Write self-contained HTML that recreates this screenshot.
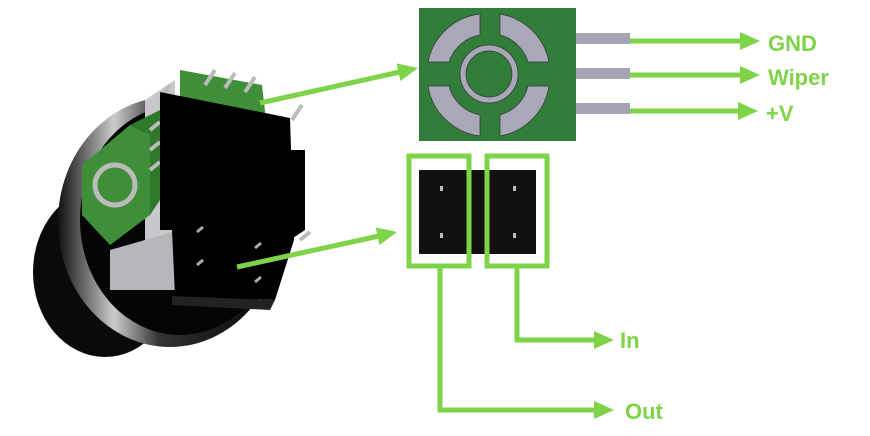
<!DOCTYPE html>
<html><head><style>
body{margin:0;background:#fff;width:870px;height:436px;overflow:hidden}
svg{display:block}
text{font-family:"Liberation Sans",sans-serif;font-weight:bold;fill:#7ed348}
</style></head><body>
<svg width="870" height="436" viewBox="0 0 870 436">
<defs>
<linearGradient id="g1" x1="0" x2="1"><stop offset="0" stop-color="#111"/><stop offset=".25" stop-color="#ccc"/><stop offset=".45" stop-color="#333"/><stop offset="1" stop-color="#000"/></linearGradient>
</defs>
<!-- knob -->
<ellipse cx="105" cy="272" rx="72" ry="85" fill="#0a0a0a"/>
<ellipse cx="170" cy="222" rx="112" ry="125" fill="url(#g1)"/>
<ellipse cx="180" cy="220" rx="100" ry="115" fill="#050505"/>
<!-- silver brackets -->
<polygon points="145,100 175,80 175,270 145,290" fill="#c8c8cc"/>
<polygon points="110,250 180,230 180,290 110,290" fill="#b5b5ba"/>
<!-- green side board -->
<polygon points="82,165 130,125 150,135 150,215 110,245 82,215" fill="#3f8f3a"/>
<polygon points="130,125 160,110 160,200 150,215 150,135" fill="#2e7a2a"/>
<circle cx="115" cy="185" r="20" fill="none" stroke="#bbb" stroke-width="5"/>
<!-- top board -->
<polygon points="180,70 262,85 266,120 180,110" fill="#3f8f3a"/>
<g stroke="#bbb" stroke-width="4"><line x1="205" y1="85" x2="215" y2="70"/><line x1="225" y1="88" x2="235" y2="73"/><line x1="245" y1="92" x2="255" y2="77"/><line x1="160" y1="100" x2="170" y2="85"/><line x1="292" y1="120" x2="302" y2="105"/><line x1="150" y1="130" x2="160" y2="122"/><line x1="150" y1="150" x2="160" y2="142"/><line x1="150" y1="170" x2="160" y2="162"/><line x1="300" y1="240" x2="310" y2="232"/></g>
<!-- black housing -->
<polygon points="160,92 290,118 294,240 275,300 175,296 172,230 160,230" fill="#000"/>
<polygon points="290,150 305,150 305,230 290,240" fill="#000"/>
<polygon points="172,296 275,300 270,310 172,305" fill="#222"/>
<g stroke="#aaa" stroke-width="3"><line x1="197" y1="232" x2="203" y2="227"/><line x1="197" y1="265" x2="203" y2="260"/><line x1="255" y1="248" x2="261" y2="243"/><line x1="255" y1="282" x2="261" y2="277"/></g>
<!-- left arrows -->
<g stroke="#7ed348" stroke-width="5" fill="none">
<line x1="260" y1="103" x2="400" y2="72"/>
<line x1="237" y1="267" x2="379" y2="236"/>
</g>
<g fill="#7ed348">
<polygon points="418,68 400.4,81 396.6,63.4"/>
<polygon points="397,232 379.4,245 375.6,227.4"/>
</g>
<!-- pcb -->
<rect x="419" y="8" width="157" height="133" fill="#327d3a"/>
<g fill="#a8a8b8" stroke="#333" stroke-width=".7">
<path d="M480,14 A60,60 0 0,0 428,62 L449,62 A40,40 0 0,1 480,35 Z"/>
<path d="M500,14 A60,60 0 0,1 549,62 L528,62 A40,40 0 0,0 500,35 Z"/>
<path d="M480,136 A60,60 0 0,1 428,86 L449,86 A40,40 0 0,0 480,115 Z"/>
<path d="M500,136 A60,60 0 0,0 549,86 L528,86 A40,40 0 0,1 500,115 Z"/>
</g>
<circle cx="489" cy="74" r="29" fill="#a8a8b8" stroke="#333" stroke-width=".7"/>
<circle cx="489" cy="74" r="23" fill="#327d3a" stroke="#333" stroke-width=".7"/>
<g fill="#a4a4b4"><rect x="576" y="33" width="54" height="11"/><rect x="576" y="68" width="54" height="11"/><rect x="576" y="103" width="54" height="11"/></g>
<g stroke="#7ed348" stroke-width="5" fill="none">
<line x1="630" y1="41" x2="742" y2="41"/>
<line x1="630" y1="75" x2="742" y2="75"/>
<line x1="630" y1="111" x2="740" y2="111"/>
<rect x="409" y="156" width="60" height="110"/>
<rect x="487" y="156" width="60" height="110"/>
<polyline points="440,266 440,410 596,410"/>
<polyline points="517,266 517,340 596,340"/>
</g>
<g fill="#7ed348">
<polygon points="760,41 740,32 740,50"/>
<polygon points="760,75 740,66 740,84"/>
<polygon points="758,111 738,102 738,120"/>
<polygon points="614,340 594,331 594,349"/>
<polygon points="614,410 594,401 594,419"/>
</g>
<text x="768" y="51" font-size="22">GND</text>
<text x="768" y="85" font-size="22">Wiper</text>
<text x="766" y="121" font-size="22">+V</text>
<!-- black jacks -->
<rect x="419" y="170" width="117" height="84" fill="#111"/>
<g fill="#bbb"><rect x="440" y="186" width="3" height="5"/><rect x="440" y="233" width="3" height="5"/><rect x="513" y="186" width="3" height="5"/><rect x="513" y="233" width="3" height="5"/></g>
<g stroke="#7ed348" stroke-width="5" fill="none">
<rect x="409" y="156" width="60" height="110"/>
<rect x="487" y="156" width="60" height="110"/>
</g>
<text x="620" y="348" font-size="22">In</text>
<text x="625" y="419" font-size="22">Out</text>
</svg>
</body></html>
